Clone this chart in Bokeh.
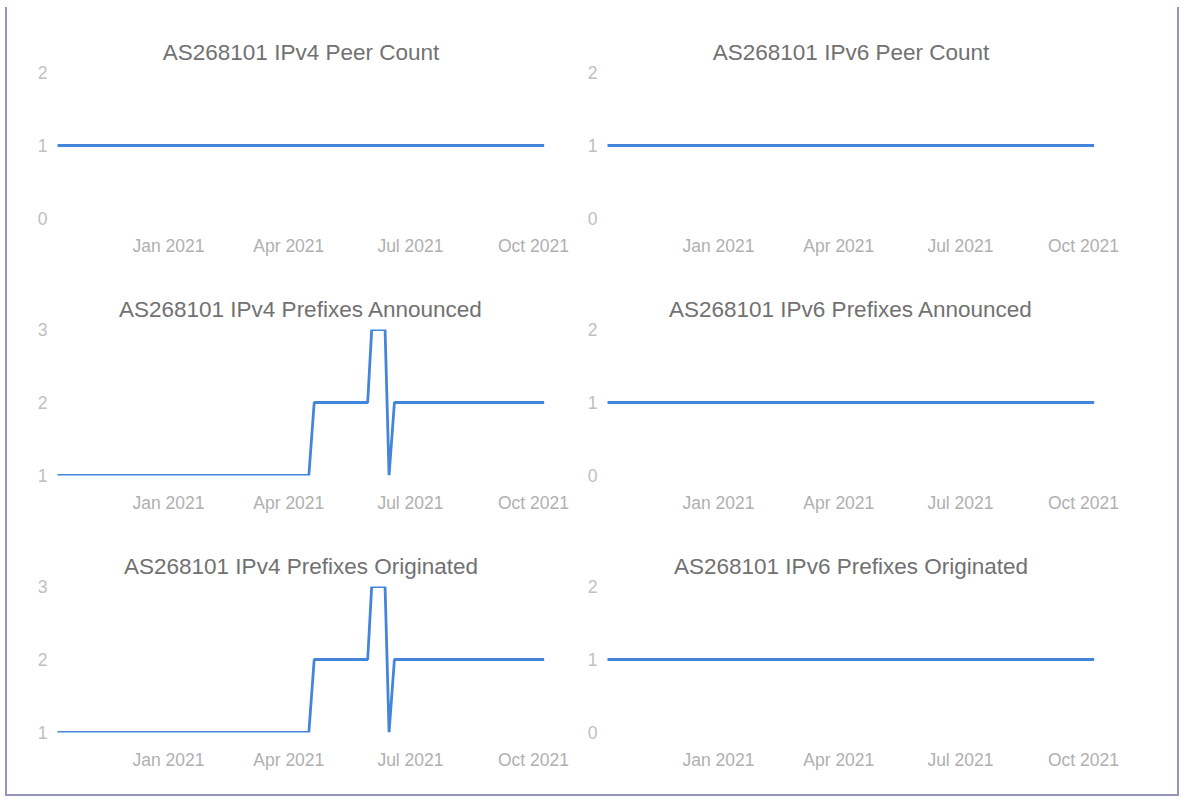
from datetime import datetime, timedelta
from bokeh.plotting import figure
from bokeh.layouts import gridplot
from bokeh.models import Range1d, FixedTicker, DatetimeTickFormatter
from bokeh.embed import file_html
from bokeh.resources import INLINE

asn = "AS268101"

# x-axis tick dates (quarter starts)
tick_dates = ["2021-01-01", "2021-04-01", "2021-07-01", "2021-10-01"]

# IPv4 / IPv6 peer counts
peer_v4_dates = ["2020-10-10", "2021-10-09"]
peer_v4_values = [1, 1]
peer_v6_dates = ["2020-10-10", "2021-10-09"]
peer_v6_values = [1, 1]

# IPv4 prefixes (announced / originated)
prefix_v4_dates = ["2020-10-10", "2021-04-16", "2021-04-20", "2021-05-30",
                   "2021-06-02", "2021-06-12", "2021-06-15", "2021-06-19",
                   "2021-10-09"]
prefix_v4_announced = [1, 1, 2, 2, 3, 3, 1, 2, 2]
prefix_v4_originated = [1, 1, 2, 2, 3, 3, 1, 2, 2]

# IPv6 prefixes (announced / originated)
prefix_v6_dates = ["2020-10-10", "2021-10-09"]
prefix_v6_announced = [1, 1]
prefix_v6_originated = [1, 1]

# y tick values per panel
yticks_peer = [0, 1, 2]
yticks_v4_prefix = [1, 2, 3]
yticks_v6_prefix = [0, 1, 2]

LINE = "#4385da"
TITLE_C = "#717171"
TICK_C = "#b0b0b0"
YTICK_C = "#c0c0c0"
FONT = "Liberation Sans"


def to_dt(lst):
    return [datetime.fromisoformat(d) for d in lst]


def to_ms(lst):
    epoch = datetime(1970, 1, 1)
    return [(datetime.fromisoformat(d) - epoch) / timedelta(milliseconds=1) for d in lst]


def make(title, dates, values, yticks, left, bottom_row):
    width = 575 if left else 595
    height = 273 if bottom_row else 257
    p = figure(width=width, height=height, x_axis_type="datetime",
               output_backend="svg", toolbar_location=None,
               x_range=Range1d(datetime(2020, 10, 7, 18), datetime(2021, 10, 11, 12)),
               y_range=Range1d(min(yticks), max(yticks)),
               min_border_left=47 if left else 22,
               min_border_right=35 if left else 80,
               min_border_top=65,
               min_border_bottom=62 if bottom_row else 46)
    p.title.text = title
    p.title.align = "center"
    p.title.text_font = FONT
    p.title.text_font_size = "22.5px"
    p.title.text_font_style = "normal"
    p.title.text_color = TITLE_C
    p.title.standoff = 16
    p.line(to_dt(dates), values, line_width=2.8, color=LINE)

    p.xaxis.ticker = FixedTicker(ticks=to_ms(tick_dates))
    p.xaxis.formatter = DatetimeTickFormatter(days="%b %Y", months="%b %Y", years="%b %Y")
    p.yaxis.ticker = FixedTicker(ticks=yticks)
    for ax, col, stand in ((p.xaxis, TICK_C, 17), (p.yaxis, YTICK_C, 7)):
        ax.axis_line_color = None
        ax.major_tick_line_color = None
        ax.minor_tick_line_color = None
        ax.major_tick_out = 0
        ax.minor_tick_out = 0
        ax.major_label_text_font = FONT
        ax.major_label_text_font_size = "17.5px"
        ax.major_label_text_color = col
        ax.major_label_standoff = stand
    p.xgrid.visible = False
    p.ygrid.visible = False
    p.outline_line_color = None
    return p


p1 = make(f"{asn} IPv4 Peer Count", peer_v4_dates, peer_v4_values, yticks_peer, True, False)
p2 = make(f"{asn} IPv6 Peer Count", peer_v6_dates, peer_v6_values, yticks_peer, False, False)
p3 = make(f"{asn} IPv4 Prefixes Announced", prefix_v4_dates, prefix_v4_announced, yticks_v4_prefix, True, False)
p4 = make(f"{asn} IPv6 Prefixes Announced", prefix_v6_dates, prefix_v6_announced, yticks_v6_prefix, False, False)
p5 = make(f"{asn} IPv4 Prefixes Originated", prefix_v4_dates, prefix_v4_originated, yticks_v4_prefix, True, True)
p6 = make(f"{asn} IPv6 Prefixes Originated", prefix_v6_dates, prefix_v6_originated, yticks_v6_prefix, False, True)

grid = gridplot([[p1, p2], [p3, p4], [p5, p6]], toolbar_location=None)
grid.styles = {"border-left": "2px solid #9494bb",
               "border-right": "2px solid #9494bb",
               "border-bottom": "2px solid #9494bb",
               "box-sizing": "border-box",
               "margin-left": "5px",
               "margin-top": "7px"}

open("out.html", "w").write(file_html(grid, INLINE))
